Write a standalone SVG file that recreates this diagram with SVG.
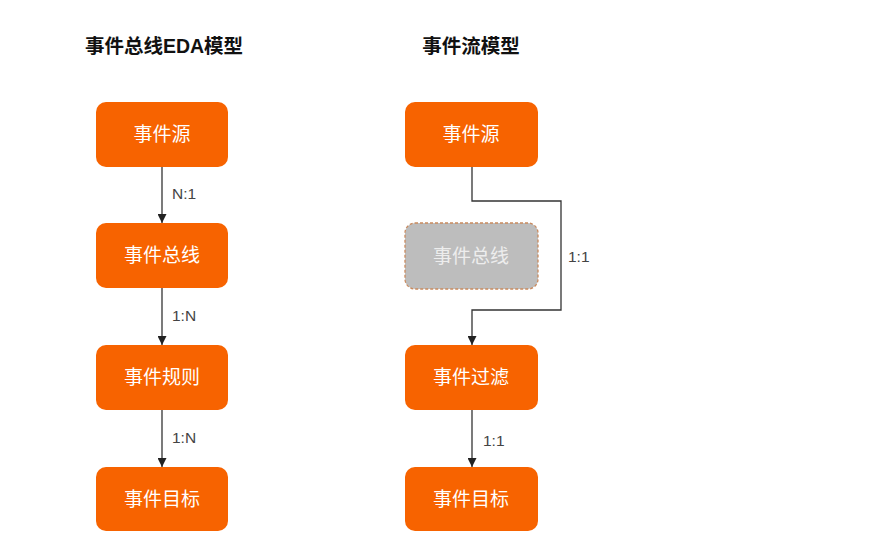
<svg xmlns="http://www.w3.org/2000/svg" width="886" height="559" viewBox="0 0 886 559">
<defs>
<marker id="arr" viewBox="0 0 10 10" refX="10" refY="5" markerWidth="9" markerHeight="9" markerUnits="userSpaceOnUse" orient="auto"><path d="M0,0 L10,5 L0,10 z" fill="#222"/></marker>
<style>
.box{fill:#F76300;}
.lbl{font-family:"Liberation Sans","Noto Sans CJK SC",sans-serif;font-size:19px;fill:#fff;text-anchor:middle;dominant-baseline:central;}
.title{font-family:"Liberation Sans","Noto Sans CJK SC",sans-serif;font-size:19.5px;font-weight:bold;fill:#111;text-anchor:middle;}
.edge{fill:none;stroke:#333;stroke-width:1.3;marker-end:url(#arr);}
.elbl{font-family:"Liberation Sans","Noto Sans CJK SC",sans-serif;font-size:15.5px;fill:#444;dominant-baseline:central;}
</style>
</defs>
<rect width="886" height="559" fill="#fff"/>
<text class="title" x="164" y="53">事件总线EDA模型</text>
<text class="title" x="471" y="53">事件流模型</text>
<g id="connectors">
<line class="edge" x1="162" y1="167" x2="162" y2="223"/>
<line class="edge" x1="162" y1="288" x2="162" y2="345"/>
<line class="edge" x1="162" y1="410" x2="162" y2="467"/>
<path class="edge" d="M472,167 V201 H561 V310 H472 V345"/>
<line class="edge" x1="472" y1="410" x2="472" y2="467"/>
<text class="elbl" x="172" y="193">N:1</text>
<text class="elbl" x="172" y="315">1:N</text>
<text class="elbl" x="172" y="437">1:N</text>
<text class="elbl" x="568" y="256">1:1</text>
<text class="elbl" x="483" y="440">1:1</text>
</g>
<g id="l-src"><rect class="box" x="96" y="102" width="132" height="65" rx="10"/><text class="lbl" x="162" y="134">事件源</text></g>
<g id="l-bus"><rect class="box" x="96" y="223" width="132" height="65" rx="10"/><text class="lbl" x="162" y="255">事件总线</text></g>
<g id="l-rule"><rect class="box" x="96" y="345" width="132" height="65" rx="10"/><text class="lbl" x="162" y="377">事件规则</text></g>
<g id="l-target"><rect class="box" x="96" y="467" width="132" height="64" rx="10"/><text class="lbl" x="162" y="499">事件目标</text></g>
<g id="r-src"><rect class="box" x="405" y="102" width="133" height="65" rx="10"/><text class="lbl" x="471" y="134">事件源</text></g>
<g id="r-bus"><rect x="405" y="223" width="133" height="66" rx="10" fill="#BDBDBD" stroke="#C98A5E" stroke-width="1.3" stroke-dasharray="3,2"/><text class="lbl" x="471" y="256" style="fill:#EDEDED">事件总线</text></g>
<g id="r-filter"><rect class="box" x="405" y="345" width="133" height="65" rx="10"/><text class="lbl" x="471" y="377">事件过滤</text></g>
<g id="r-target"><rect class="box" x="405" y="467" width="133" height="64" rx="10"/><text class="lbl" x="471" y="499">事件目标</text></g>
</svg>
